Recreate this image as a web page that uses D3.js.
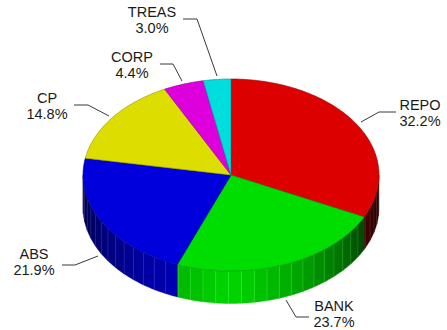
<!DOCTYPE html>
<html>
<head>
<meta charset="utf-8">
<script src="https://cdn.jsdelivr.net/npm/d3@7"></script>
<style>
html,body{margin:0;padding:0;background:#fff}
svg{display:block}
text{font-family:"Liberation Sans",Arial,sans-serif;font-size:14.5px;fill:#1a1a1a;text-anchor:middle}
</style>
</head>
<body>
<svg id="chart" width="447" height="330"></svg>
<script>
const categories = ["REPO","BANK","ABS","CP","CORP","TREAS"];
const shares = [32.2,23.7,21.9,14.8,4.4,3.0];
const hues = ["#dd0000","#00dd00","#0000dd","#dddd00","#dd00dd","#00dddd"];
// label text anchor and elbow of each leader line, in chart pixels
const labelAnchors = [[420,110],[334,310.8],[34,259],[47,103],[132,62],[152,17]];
const leaderPaths = [
  [[396,112],[379,112],[361,122]],
  [[309,317],[296,317],[286,300]],
  [[62,265],[75,265],[98,256]],
  [[74,105],[88,105],[109,116]],
  [[160,64],[173,64],[182,81]],
  [[183,19],[197,19],[217,76]]
];

const CX = 231, CY = 175, RX = 148, RY = 96, DEPTH = 32.5, FACET = 5;

const svg = d3.select("#chart");
const pie = d3.pie().sort(null).value(d => d).startAngle(0).endAngle(2*Math.PI);
const arcs = pie(shares);

const px = d3.scaleLinear().domain([-1,1]).range([CX-RX,CX+RX]);
const py = d3.scaleLinear().domain([-1,1]).range([CY-RY,CY+RY]);
const rim = (a,dz=0) => [px(Math.sin(a)), py(-Math.cos(a))+dz];
const line = d3.line();

function rimPoints(a0,a1){
  const n = Math.max(2,Math.ceil((a1-a0)/0.02));
  return d3.range(n+1).map(i => a0+(a1-a0)*i/n);
}

// Brightness of a wall facet falls away from the light, which sits just left of the front
const shade = d3.scaleLinear()
  .domain([90,115,125,150,180,205,235,270])
  .range([0.12,0.30,0.43,0.72,0.97,0.80,0.58,0.30])
  .clamp(true);

const walls = svg.append("g");
arcs.forEach((s,i) => {
  const a0 = Math.max(s.startAngle,Math.PI/2), a1 = Math.min(s.endAngle,3*Math.PI/2);
  if(a1<=a0) return;
  const base = d3.color(hues[i]);
  let k = Math.ceil((a0-s.startAngle)/(FACET*Math.PI/180)-1e-6);
  const edges = [a0];
  for(;;k++){
    const e = s.startAngle+k*FACET*Math.PI/180;
    if(e>=a1) break;
    if(e>a0) edges.push(e);
  }
  edges.push(a1);
  d3.pairs(edges).forEach(([p,q]) => {
    const m = (p+q)/2*180/Math.PI, f = shade(m);
    const col = d3.rgb(base.r*f,base.g*f,base.b*f);
    const top = rimPoints(p,q).map(a => rim(a));
    const bot = rimPoints(p,q).reverse().map(a => rim(a,DEPTH));
    walls.append("path").attr("d",line(top.concat(bot))+"Z").attr("fill",col).attr("stroke",col).attr("stroke-width",0.4);
    // pale seam on the leading edge of each facet
    if(p>a0){
      const lift = 45;
      const seam = d3.rgb(base.r*f+lift,base.g*f+lift,base.b*f+lift);
      walls.append("path").attr("d",line([rim(p),rim(p,DEPTH)])).attr("stroke",seam).attr("stroke-opacity",0.7).attr("stroke-width",0.7).attr("fill","none");
    }
  });
});

const faces = svg.append("g");
arcs.forEach((s,i) => {
  const pts = [[CX,CY]].concat(rimPoints(s.startAngle,s.endAngle).map(a => rim(a)));
  faces.append("path").attr("d",line(pts)+"Z").attr("fill",hues[i])
    .attr("stroke",d3.color(hues[i]).darker(1.1)).attr("stroke-width",0.6).attr("stroke-linejoin","round");
});

svg.append("g").selectAll("path").data(leaderPaths).join("path")
  .attr("d",d => line(d)).attr("fill","none").attr("stroke","#222").attr("stroke-width",0.9);

const labels = svg.append("g").selectAll("text").data(categories).join("text")
  .attr("transform",(d,i) => `translate(${labelAnchors[i]})`);
labels.append("tspan").attr("x",0).attr("y",0).text(d => d);
labels.append("tspan").attr("x",0).attr("y",16).text((d,i) => shares[i].toFixed(1)+"%");
</script>
</body>
</html>
